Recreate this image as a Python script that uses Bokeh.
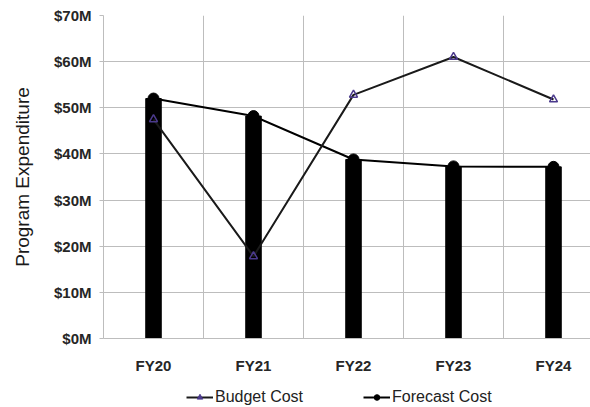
from bokeh.plotting import figure
from bokeh.layouts import column
from bokeh.models import Range1d, FixedTicker, PrintfTickFormatter, Legend, LegendItem
from bokeh.embed import file_html
from bokeh.resources import INLINE

categories = ["FY20", "FY21", "FY22", "FY23", "FY24"]
budget_cost = [47.5, 17.8, 52.8, 61.0, 51.8]
forecast_cost = [52.0, 48.2, 38.8, 37.3, 37.2]
y_ticks = [0, 10, 20, 30, 40, 50, 60, 70]

x = list(range(1, len(categories) + 1))
grid_x = [v + 0.5 for v in x[:-1]]

p = figure(width=590, height=376, output_backend="svg", toolbar_location=None,
           x_range=Range1d(0.5, 5.37), y_range=Range1d(0, 70),
           min_border_left=103, min_border_right=0, min_border_top=15, min_border_bottom=30)
p.outline_line_color = None

p.vbar(x=x, top=forecast_cost, width=0.155, color="black")
p.line(x, forecast_cost, line_width=2, color="black")
p.scatter(x, forecast_cost, marker="circle", size=11, color="black")
p.line(x, budget_cost, line_width=2, color="#1a1a1a")
p.scatter(x, budget_cost, marker="triangle", size=8, line_color="#4b3a8c",
          fill_color=None, line_width=1.5)

grid_color = "#bdbdbd"
p.xgrid.ticker = FixedTicker(ticks=grid_x)
p.ygrid.ticker = FixedTicker(ticks=y_ticks)
p.xgrid.grid_line_color = grid_color
p.ygrid.grid_line_color = grid_color

p.xaxis.ticker = FixedTicker(ticks=x)
p.xaxis.major_label_overrides = {v: c for v, c in zip(x, categories)}
p.xaxis.major_tick_line_color = None
p.xaxis.minor_tick_line_color = None
p.xaxis.axis_line_color = grid_color
p.xaxis.major_label_standoff = 12
p.xaxis.major_label_text_font = "Liberation Sans"
p.xaxis.major_label_text_font_style = "bold"
p.xaxis.major_label_text_font_size = "15px"
p.xaxis.major_label_text_color = "#262626"

p.yaxis.ticker = FixedTicker(ticks=y_ticks)
p.yaxis.formatter = PrintfTickFormatter(format="$%dM")
p.yaxis.axis_line_color = grid_color
p.yaxis.major_tick_line_color = grid_color
p.yaxis.major_tick_out = 4
p.yaxis.major_tick_in = 0
p.yaxis.minor_tick_line_color = None
p.yaxis.major_label_standoff = 8
p.yaxis.major_label_text_font = "Liberation Sans"
p.yaxis.major_label_text_font_style = "bold"
p.yaxis.major_label_text_font_size = "15px"
p.yaxis.major_label_text_color = "#262626"
p.yaxis.axis_label = "Program Expenditure"
p.yaxis.axis_label_text_font = "Liberation Sans"
p.yaxis.axis_label_text_font_style = "normal"
p.yaxis.axis_label_text_font_size = "19px"
p.yaxis.axis_label_text_color = "#1a1a1a"
p.yaxis.axis_label_standoff = 18

# Legend strip below the chart (its series sit outside its visible range)
leg = figure(width=590, height=31, output_backend="svg", toolbar_location=None,
             x_range=Range1d(0, 1), y_range=Range1d(0, 1),
             x_axis_location=None, y_axis_location=None,
             min_border_left=0, min_border_right=0, min_border_top=0, min_border_bottom=0)
leg.outline_line_color = None
leg.xgrid.visible = False
leg.ygrid.visible = False
lb_line = leg.line(x, budget_cost, line_width=2, color="#1a1a1a")
lb_mark = leg.scatter(x, budget_cost, marker="triangle", size=7, line_color="#4b3a8c",
                      fill_color="#4b3a8c", line_width=1)
lf_line = leg.line(x, forecast_cost, line_width=2, color="black")
lf_mark = leg.scatter(x, forecast_cost, marker="circle", size=9, color="black")

legend = Legend(items=[LegendItem(label="Budget Cost", renderers=[lb_line, lb_mark]),
                       LegendItem(label="Forecast Cost", renderers=[lf_line, lf_mark])],
                orientation="horizontal", location=(83, 1), padding=0, margin=0,
                spacing=60, glyph_width=27, glyph_height=14, label_standoff=2,
                label_text_font="Liberation Sans", label_text_font_size="16px",
                label_text_color="#222222", border_line_color=None,
                background_fill_alpha=0)
leg.add_layout(legend)

layout = column(p, leg, spacing=0)
open("out.html", "w").write(file_html(layout, INLINE))
